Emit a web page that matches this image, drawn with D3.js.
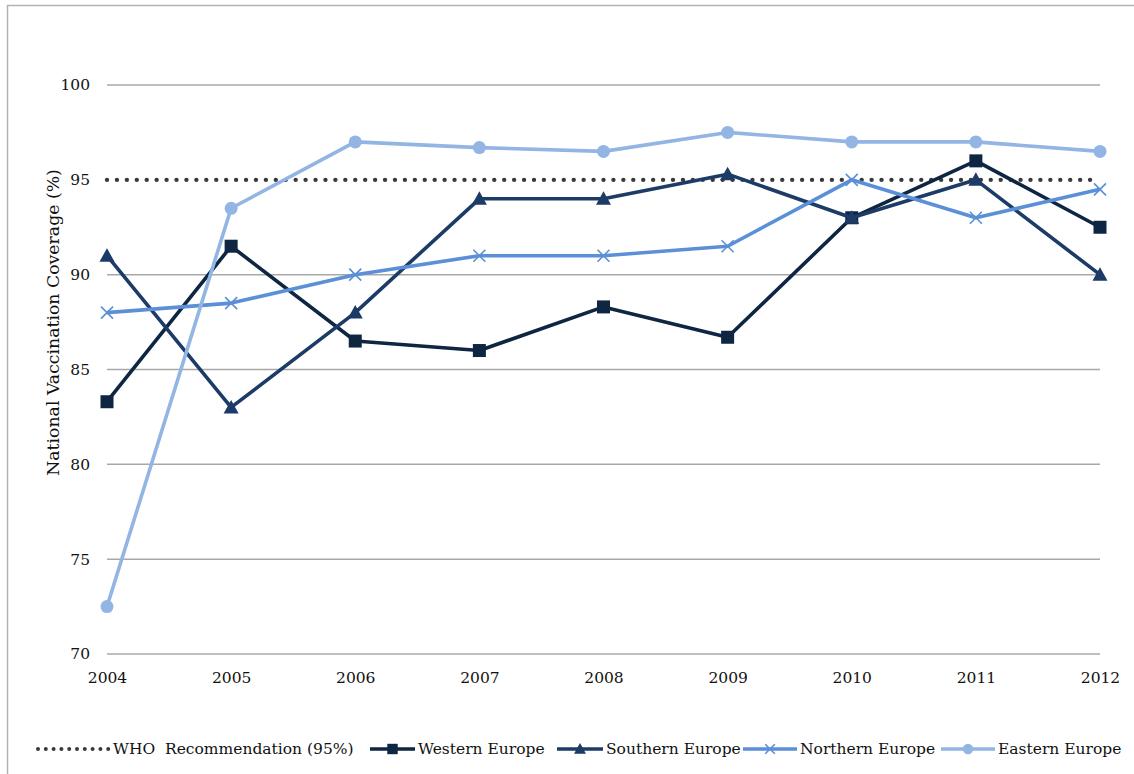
<!DOCTYPE html>
<html>
<head>
<meta charset="utf-8">
<script src="https://cdn.jsdelivr.net/npm/d3@7"></script>
<style>
  html, body { margin: 0; padding: 0; background: #fff; }
  svg { display: block; }
  text { font-family: "DejaVu Serif", serif; fill: #111; }
</style>
</head>
<body>
<svg id="chart" width="1134" height="774"></svg>
<script>
// Measles vaccination coverage by European region, 2004-2012
const years = [2004, 2005, 2006, 2007, 2008, 2009, 2010, 2011, 2012];
const yTicks = [70, 75, 80, 85, 90, 95, 100];
const whoTarget = 95;
const western  = [83.3, 91.5, 86.5, 86.0, 88.3, 86.7, 93.0, 96.0, 92.5];
const southern = [91.0, 83.0, 88.0, 94.0, 94.0, 95.3, 93.0, 95.0, 90.0];
const northern = [88.0, 88.5, 90.0, 91.0, 91.0, 91.5, 95.0, 93.0, 94.5];
const eastern  = [72.5, 93.5, 97.0, 96.7, 96.5, 97.5, 97.0, 97.0, 96.5];

const seriesList = [
  { name: "Western Europe",  values: western,  color: "#0e2642", marker: "square" },
  { name: "Southern Europe", values: southern, color: "#1c3b66", marker: "triangle" },
  { name: "Northern Europe", values: northern, color: "#5b8fd7", marker: "cross" },
  { name: "Eastern Europe",  values: eastern,  color: "#92b5e3", marker: "circle" }
];

const svg = d3.select("#chart");

// outer frame (top and left edges)
svg.append("path")
  .attr("d", "M7.5,774 L7.5,5.5 L1134,5.5")
  .attr("fill", "none").attr("stroke", "#b3b3b3").attr("stroke-width", 1.5);

const x = d3.scalePoint().domain(years).range([107, 1100]);
const y = d3.scaleLinear().domain([70, 100]).range([654, 85]);

// horizontal grid lines
const grid = svg.append("g");
grid.selectAll("line").data(yTicks.filter(t => t !== whoTarget)).join("line")
  .attr("x1", x(years[0])).attr("x2", x(years[years.length - 1]))
  .attr("y1", d => y(d)).attr("y2", d => y(d))
  .attr("stroke", "#a8a8a8").attr("stroke-width", 1.5);

// y axis labels
const yAxis = d3.axisLeft(y).tickValues(yTicks).tickSize(0).tickPadding(17);
const gy = svg.append("g").attr("transform", `translate(${x(years[0])},0)`).call(yAxis);
gy.select(".domain").remove();
gy.selectAll("text").style("font-family", "DejaVu Serif").style("font-size", "15.5px").attr("fill", "#000");

// x axis labels
const xAxis = d3.axisBottom(x).tickSize(0).tickPadding(18).tickFormat(d3.format("d"));
const gx = svg.append("g").attr("transform", `translate(0,${y(70)})`).call(xAxis);
gx.select(".domain").remove();
gx.selectAll("text").style("font-family", "DejaVu Serif").style("font-size", "15.5px").attr("fill", "#000");

// y axis title
svg.append("text")
  .attr("transform", `translate(59,${(165 + 480) / 2}) rotate(-90)`)
  .attr("text-anchor", "middle")
  .style("font-size", "17.3px")
  .text("National Vaccination Coverage (%)");

// WHO recommendation dotted line
svg.append("line")
  .attr("x1", x(years[0])).attr("x2", x(years[years.length - 1]))
  .attr("y1", y(whoTarget)).attr("y2", y(whoTarget))
  .attr("stroke", "#3a3a3a").attr("stroke-width", 4.4)
  .attr("stroke-linecap", "round").attr("stroke-dasharray", "0 9.93");

const line = d3.line().x((d, i) => x(years[i])).y(d => y(d));

function drawMarker(g, type, color, cx, cy, scale) {
  const s = scale || 1;
  if (type === "square") {
    const h = 6.5 * s;
    g.append("rect").attr("x", cx - h).attr("y", cy - h).attr("width", 2 * h).attr("height", 2 * h)
      .attr("fill", color);
  } else if (type === "triangle") {
    const h = 7.5 * s;
    g.append("path")
      .attr("d", `M${cx},${cy - h} L${cx + h},${cy + h * 0.8} L${cx - h},${cy + h * 0.8} Z`)
      .attr("fill", color);
  } else if (type === "cross") {
    const h = 6 * s;
    g.append("path")
      .attr("d", `M${cx - h},${cy - h} L${cx + h},${cy + h} M${cx - h},${cy + h} L${cx + h},${cy - h}`)
      .attr("stroke", color).attr("stroke-width", 1.6).attr("fill", "none");
  } else {
    g.append("circle").attr("cx", cx).attr("cy", cy).attr("r", 6.5 * s).attr("fill", color);
  }
}

seriesList.forEach(s => {
  const g = svg.append("g");
  g.append("path").datum(s.values)
    .attr("d", line)
    .attr("fill", "none").attr("stroke", s.color).attr("stroke-width", 3.6)
    .attr("stroke-linejoin", "round");
  s.values.forEach((v, i) => drawMarker(g, s.marker, s.color, x(years[i]), y(v)));
});

// legend
const legendY = 749;
const legend = svg.append("g");
const legendItems = [
  { name: "WHO  Recommendation (95%)", lineX: [38, 109], textX: 113, who: true },
  { name: "Western Europe",  lineX: [370, 415], textX: 418, s: seriesList[0] },
  { name: "Southern Europe", lineX: [557, 603], textX: 606, s: seriesList[1] },
  { name: "Northern Europe", lineX: [743, 797], textX: 800, s: seriesList[2] },
  { name: "Eastern Europe",  lineX: [941, 995], textX: 998, s: seriesList[3] }
];
legendItems.forEach(it => {
  if (it.who) {
    legend.append("line")
      .attr("x1", it.lineX[0]).attr("x2", it.lineX[1]).attr("y1", legendY).attr("y2", legendY)
      .attr("stroke", "#3a3a3a").attr("stroke-width", 4)
      .attr("stroke-linecap", "round").attr("stroke-dasharray", "0 7.8");
  } else {
    legend.append("line")
      .attr("x1", it.lineX[0]).attr("x2", it.lineX[1]).attr("y1", legendY).attr("y2", legendY)
      .attr("stroke", it.s.color).attr("stroke-width", 3.6);
    drawMarker(legend, it.s.marker, it.s.color, (it.lineX[0] + it.lineX[1]) / 2, legendY, 0.8);
  }
  legend.append("text")
    .attr("x", it.textX).attr("y", legendY).attr("dy", "0.35em")
    .style("font-size", "15.5px")
    .style("white-space", "pre")
    .text(it.name);
});
</script>
</body>
</html>
